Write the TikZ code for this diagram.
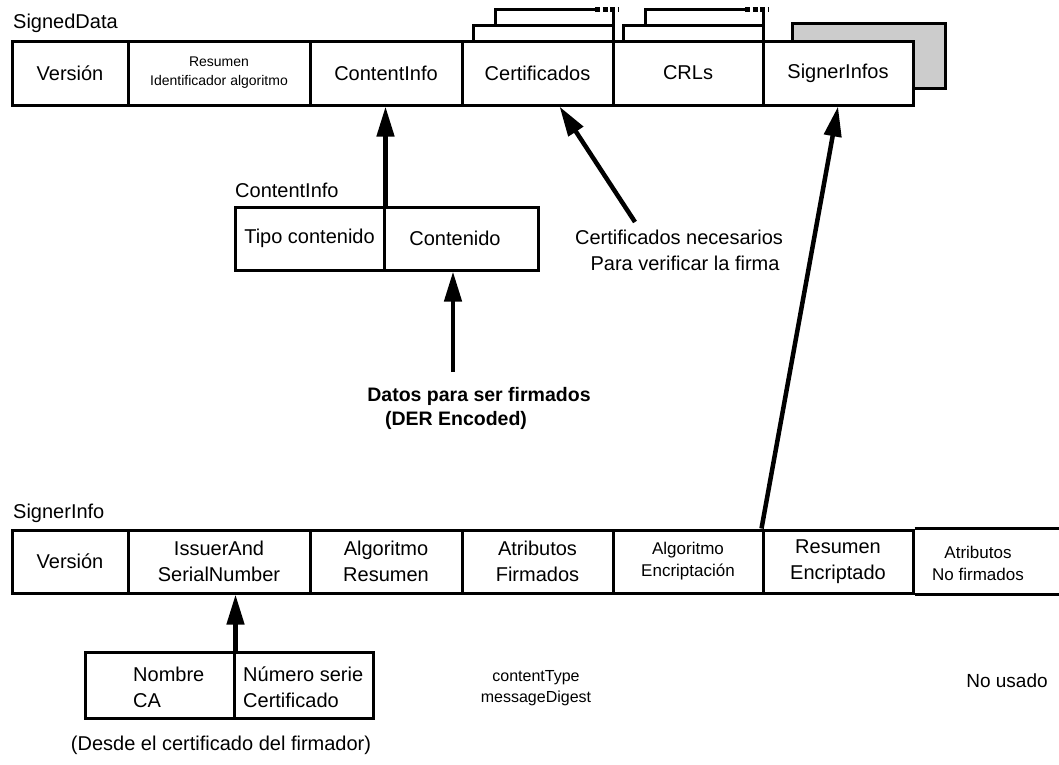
\documentclass[tikz,border=0pt]{standalone}
\usepackage{fontspec}
\setmainfont{Liberation Sans}
\usetikzlibrary{arrows.meta,calc}
\tikzset{
  cell/.style={draw, line width=3pt, fill=white, minimum height=64pt, inner sep=0pt, align=center, font=\fontsize{20}{26}\selectfont},
  txt/.style={inner sep=0pt, align=center, font=\fontsize{20}{26}\selectfont},
  smalltxt/.style={font=\fontsize{14}{19}\selectfont},
  midtxt/.style={font=\fontsize{17}{22}\selectfont},
  arr/.style={line width=4.5pt, -{Triangle[length=30pt,width=17pt]}},
  boxline/.style={line width=3pt},
  dots/.style={line width=5pt, dash pattern=on 5pt off 2.5pt},
}
\begin{document}
\begin{tikzpicture}[x=1pt,y=-1pt]
\useasboundingbox (0,0) rectangle (1059,764);
% grey back sheet behind SignerInfos
\draw[boxline, fill=black!20] (792,23) rectangle (945,88);
% stacked sheets behind Certificados
\draw[boxline] (473,41) |- (613,25) -- (613,41);
\draw[boxline] (495,25) |- (595,9);
\draw[dots] (595,9) -- (618,9);
\draw[boxline] (613,9) -- (613,25);
% stacked sheets behind CRLs
\draw[boxline] (623,41) |- (763,25) -- (763,41);
\draw[boxline] (645,25) |- (745,9);
\draw[dots] (745,9) -- (768,9);
\draw[boxline] (763,9) -- (763,25);

% SignedData row
\node[txt, anchor=base west] (sdlab) at (13,28) {SignedData};
\node[cell, minimum width=116pt] (t1) at (70,73) {Versión};
\node[cell, minimum width=182pt, smalltxt] (t2) at (219,73) {Resumen\\Identificador algoritmo};
\node[cell, minimum width=152pt] (t3) at (386,73) {ContentInfo};
\node[cell, minimum width=151pt] (t4) at (537.5,73) {Certificados};
\node[cell, minimum width=150pt] (t5) at (688,73) {CRLs};
\node[cell, minimum width=150pt] (t6) at (838,73) {SignerInfos};

% ContentInfo box
\node[txt, anchor=base west] (cilab) at (235,197) {ContentInfo};
\node[cell, minimum width=149pt, minimum height=63pt] (c1) at (309.5,238.5) {Tipo contenido};
\node[cell, minimum width=154pt, minimum height=63pt] (c2) at (461,238.5) {\hspace*{-12pt}Contenido};

% Datos text
\node[txt, font=\fontsize{19.5}{24}\selectfont\bfseries] (datos1) at (479,396) {Datos para ser firmados};
\node[txt, font=\fontsize{19.5}{24}\selectfont\bfseries] (datos2) at (456,420) {(DER Encoded)};

% Certificados text
\node[txt] (certtxt) at (679,250) {Certificados necesarios\\\hspace*{12pt}Para verificar la firma};

% SignerInfo row
\node[txt, anchor=base west] (silab) at (13,518) {SignerInfo};
\node[cell, minimum width=116pt, minimum height=63pt] (b1) at (70,561.5) {Versión};
\node[cell, minimum width=182pt, minimum height=63pt] (b2) at (219,561.5) {IssuerAnd\\SerialNumber};
\node[cell, minimum width=152pt, minimum height=63pt] (b3) at (386,561.5) {Algoritmo\\Resumen};
\node[cell, minimum width=151pt, minimum height=63pt] (b4) at (537.5,561.5) {Atributos\\Firmados};
\node[cell, minimum width=150pt, minimum height=63pt, midtxt] (b5) at (688,561.5) {Algoritmo\\Encriptación};
\node[cell, minimum width=150pt, minimum height=63pt] (b6) at (838,561.5) {Resumen\\Encriptado};
\node[txt, midtxt] (b7) at (978,563) {Atributos\\No firmados};
\draw[boxline] (b6.north east) -- ++(150,0);
\draw[boxline] (b6.south east) -- ++(150,0);

\node[txt, font=\fontsize{16}{21}\selectfont] (ctype) at (536,688) {contentType\\messageDigest};
\node[txt, font=\fontsize{19}{24}\selectfont] (nousado) at (1007,681) {No usado};

% issuer box
\node[cell, minimum width=149pt, minimum height=66pt] (s1) at (159.5,685) {};
\node[cell, minimum width=139pt, minimum height=66pt] (s2) at (303.5,685) {};
\node[txt, anchor=west, align=left] (s1t) at (133,687) {Nombre\\CA};
\node[txt, anchor=west, align=left] (s2t) at (243,687) {Número serie\\Certificado};
\node[txt] (desde) at (221,745) {(Desde el certificado del firmador)};

% arrows
\draw[arr] (c1.north east) -- (c1.north east |- t3.south);
\coordinate (dstart) at (453,372);
\draw[arr] (dstart) -- (dstart |- c2.south);
\coordinate (cstart) at (635,222);
\draw[arr] (cstart) -- ($(t4.south)+(22,0)$);
\draw[arr] (b6.north west) -- (t6.south);
\draw[arr] (s1.north east) -- (s1.north east |- b2.south);
\end{tikzpicture}
\end{document}
